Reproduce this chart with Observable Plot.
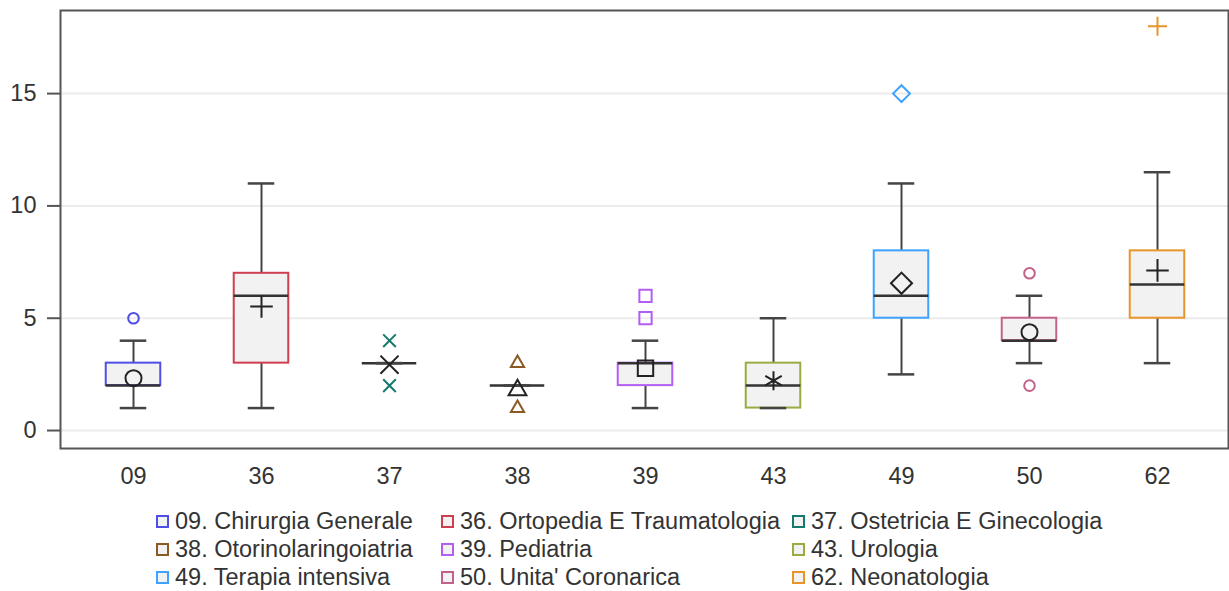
<!DOCTYPE html>
<html><head><meta charset="utf-8">
<script src="https://cdn.jsdelivr.net/npm/d3@7"></script>
<script src="https://cdn.jsdelivr.net/npm/@observablehq/plot@0.6"></script>
<style>
body{margin:0;background:#fff;font-family:"Liberation Sans",sans-serif;}
#chart{position:relative;width:1229px;height:591px;overflow:hidden;}
#legend{position:absolute;left:156px;top:507px;display:grid;grid-template-columns:285px 351px auto;grid-auto-rows:28px;font-size:23.5px;line-height:28px;color:#333;}
.item{display:flex;align-items:center;white-space:nowrap;height:28px;overflow:visible;}
.sw{width:9px;height:9px;border:2px solid;background:#f2f2f2;margin-right:6px;flex:none;}
.tx{display:inline-block;height:28px;line-height:28px;}
</style></head>
<body><div id="chart"></div>
<script>
const categories = ["09","36","37","38","39","43","49","50","62"];
const legendLabels = ["09. Chirurgia Generale","36. Ortopedia E Traumatologia","37. Ostetricia E Ginecologia",
  "38. Otorinolaringoiatria","39. Pediatria","43. Urologia",
  "49. Terapia intensiva","50. Unita' Coronarica","62. Neonatologia"];
const whiskerLow  = [1, 1, 3, 2, 1, 1, 2.5, 3, 3];
const q1          = [2, 3, 3, 2, 2, 1, 5, 4, 5];
const median      = [2, 6, 3, 2, 3, 2, 6, 4, 6.5];
const q3          = [3, 7, 3, 2, 3, 3, 8, 5, 8];
const whiskerHigh = [4, 11, 3, 2, 4, 5, 11, 6, 11.5];
const means       = [2.33, 5.52, 2.93, 1.8, 2.77, 2.22, 6.56, 4.38, 7.13];
const outliers    = [[5], [], [4, 2], [3, 1], [5, 6], [], [15], [7, 2], [18]];
const yTicks = [0, 5, 10, 15];

// styles
const colors = ["#4f4fe8","#cf3f4f","#157a6e","#8a5a25","#b35ef2","#9aab42","#3ea2ff","#c2628a","#e8952a"];
const symbols = ["circle","plus","times","triangle2","square2","asterisk","diamond2","circle","plus"];
const meanR = {circle:8, plus:7.3, times:8.3, triangle2:8.5, square2:9.8, asterisk:9, diamond2:9.5};
const outR  = {circle:5.3, plus:6.2, times:5.8, triangle2:6.3, square2:7.8, asterisk:5.5, diamond2:7.6};

const rows = categories.map((c, i) => ({cat: c, low: whiskerLow[i], q1: q1[i], med: median[i], q3: q3[i],
  high: whiskerHigh[i], mean: means[i], color: colors[i], symbol: symbols[i]}));
const outRows = categories.flatMap((c, i) => outliers[i].map(v => ({cat: c, v, color: colors[i], symbol: symbols[i]})));

const band = (1228 - 60 - 6.75 - 5) / 9;
const boxInset = (band - 55) / 2;
const capInset = (band - 27) / 2;

const meanMarks = rows.map(r => Plot.dot([r], {x: "cat", y: "mean", symbol: r.symbol, r: meanR[r.symbol],
  stroke: "#222", strokeWidth: 2, fill: "none"}));
const outMarks = outRows.map(o => Plot.dot([o], {x: "cat", y: "v", symbol: o.symbol, r: outR[o.symbol],
  stroke: o.color, strokeWidth: 2, fill: "none"}));

const plot = Plot.plot({
  width: 1229, height: 495,
  marginLeft: 60, marginRight: 1, marginTop: 10, marginBottom: 47,
  style: {fontFamily: "'Liberation Sans', sans-serif", fontSize: "23.5px", color: "#333", background: "#fff"},
  x: {type: "band", domain: categories, padding: 0, insetLeft: 6.75, insetRight: 5, label: null},
  y: {domain: [-0.8, 18.7], label: null},
  marks: [
    Plot.ruleY(yTicks, {stroke: "#ececec", strokeWidth: 2}),
    Plot.ruleX(rows, {x: "cat", y1: "low", y2: "high", stroke: "#444", strokeWidth: 2}),
    Plot.barY(rows, {x: "cat", y1: "q1", y2: "q3", fill: "#f2f2f2", stroke: "color", strokeWidth: 2,
      insetLeft: boxInset, insetRight: boxInset}),
    Plot.tickY(rows, {x: "cat", y: "med", stroke: "#333", strokeWidth: 2.5, insetLeft: boxInset, insetRight: boxInset}),
    Plot.tickY(rows, {x: "cat", y: "low", stroke: "#444", strokeWidth: 2.5, insetLeft: capInset, insetRight: capInset}),
    Plot.tickY(rows, {x: "cat", y: "high", stroke: "#444", strokeWidth: 2.5, insetLeft: capInset, insetRight: capInset}),
    ...meanMarks,
    ...outMarks,
    Plot.axisY({ticks: yTicks, tickSize: 13, tickPadding: 11, stroke: "#555", strokeWidth: 2, fill: "#333"}),
    Plot.axisX({tickSize: 0, tickPadding: 19, fill: "#333"}),
    Plot.frame({stroke: "#555", strokeWidth: 2})
  ]
});
plot.style.position = "absolute"; plot.style.left = "0"; plot.style.top = "0";
const chart = document.getElementById("chart");
chart.appendChild(plot);

const legend = document.createElement("div");
legend.id = "legend";
legendLabels.forEach((t, i) => {
  const it = document.createElement("div"); it.className = "item";
  const sw = document.createElement("span"); sw.className = "sw"; sw.style.borderColor = colors[i];
  const tx = document.createElement("span"); tx.className = "tx"; tx.textContent = t;
  it.appendChild(sw); it.appendChild(tx); legend.appendChild(it);
});
chart.appendChild(legend);
</script>
</body></html>
